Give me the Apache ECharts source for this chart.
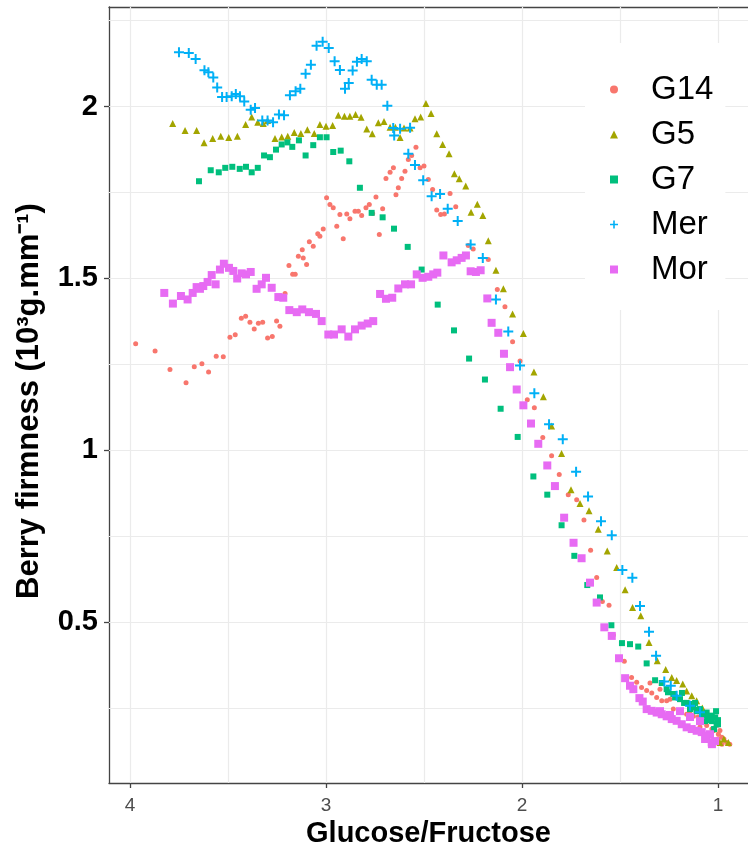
<!DOCTYPE html>
<html><head><meta charset="utf-8">
<script src="https://cdn.jsdelivr.net/npm/echarts@6/dist/echarts.min.js"></script>
<style>html,body{margin:0;padding:0;background:#fff}#c{width:748px;height:853px}</style>
</head><body><div id="c"></div>
<script>
const seriesNames = ['G14','G5','G7','Mer','Mor'];
const seriesColors = ['#F8766D','#A3A500','#00BF7D','#00B0F6','#E76BF3'];

const G14 = [[3.971,1.31],[3.872,1.289],[3.796,1.235],[3.714,1.197],[3.672,1.243],[3.633,1.252],[3.599,1.228],[3.56,1.274],[3.524,1.272],[3.49,1.329],[3.463,1.336],[3.432,1.384],[3.41,1.39],[3.388,1.373],[3.366,1.353],[3.345,1.37],[3.323,1.373],[3.298,1.327],[3.274,1.331],[3.252,1.376],[3.235,1.361],[3.209,1.456],[3.189,1.538],[3.17,1.512],[3.157,1.512],[3.141,1.565],[3.121,1.584],[3.116,1.56],[3.099,1.541],[3.085,1.607],[3.065,1.594],[3.042,1.63],[3.031,1.623],[3.014,1.644],[2.997,1.735],[2.98,1.715],[2.963,1.706],[2.945,1.652],[2.929,1.686],[2.912,1.616],[2.894,1.688],[2.878,1.674],[2.852,1.696],[2.835,1.696],[2.818,1.683],[2.796,1.706],[2.779,1.715],[2.762,1.689],[2.745,1.737],[2.728,1.628],[2.711,1.703],[2.694,1.791],[2.673,1.809],[2.656,1.822],[2.643,1.744],[2.631,1.764],[2.614,1.791],[2.597,1.812],[2.58,1.846],[2.563,1.858],[2.541,1.882],[2.52,1.822],[2.5,1.827],[2.478,1.788],[2.456,1.759],[2.435,1.699],[2.415,1.686],[2.396,1.688],[2.367,1.747],[2.338,1.709],[2.274,1.596],[2.249,1.586],[2.172,1.555],[2.126,1.468],[2.087,1.418],[2.048,1.316],[2.01,1.26],[1.973,1.147],[1.937,1.124],[1.894,1.037],[1.849,0.984],[1.81,0.93],[1.764,0.871],[1.721,0.856],[1.684,0.797],[1.65,0.709],[1.619,0.63],[1.59,0.56],[1.556,0.549],[1.534,0.463],[1.478,0.386],[1.441,0.339],[1.415,0.325],[1.39,0.31],[1.364,0.301],[1.338,0.294],[1.313,0.281],[1.287,0.271],[1.262,0.271],[1.228,0.247],[1.194,0.237],[1.16,0.232],[1.126,0.226],[1.092,0.213],[1.058,0.199],[1.024,0.184],[0.998,0.174],[0.981,0.165],[0.956,0.15],[1.005,0.2],[0.99,0.185],[0.97,0.16],[0.94,0.145],[1.143,0.241],[1.102,0.224],[1.066,0.212],[1.031,0.189],[1.0,0.16],[0.98,0.145],[1.041,0.174],[1.092,0.195],[1.296,0.305],[1.245,0.276],[1.347,0.323]];

const G5 = [[3.782,1.951],[3.719,1.931],[3.66,1.931],[3.622,1.895],[3.578,1.907],[3.537,1.914],[3.496,1.91],[3.452,1.914],[3.41,1.948],[3.379,1.97],[3.348,1.955],[3.32,1.951],[3.298,1.96],[3.26,1.907],[3.226,1.912],[3.195,1.914],[3.162,1.925],[3.128,1.922],[3.095,1.933],[3.06,1.922],[3.031,1.948],[3.0,1.943],[2.966,1.945],[2.937,1.975],[2.906,1.972],[2.878,1.972],[2.849,1.977],[2.821,1.969],[2.792,1.935],[2.764,1.921],[2.733,1.953],[2.704,1.957],[2.673,1.94],[2.646,1.94],[2.622,1.91],[2.602,1.938],[2.571,1.938],[2.546,1.965],[2.517,1.97],[2.49,2.009],[2.464,1.98],[2.435,1.921],[2.405,1.89],[2.372,1.863],[2.345,1.805],[2.32,1.79],[2.287,1.769],[2.26,1.693],[2.228,1.716],[2.2,1.683],[2.172,1.61],[2.133,1.524],[2.095,1.47],[2.048,1.397],[1.993,1.34],[1.939,1.228],[1.891,1.156],[1.849,1.071],[1.798,0.991],[1.75,0.885],[1.704,0.845],[1.658,0.824],[1.611,0.77],[1.565,0.707],[1.517,0.659],[1.474,0.594],[1.436,0.543],[1.394,0.519],[1.352,0.441],[1.31,0.388],[1.267,0.362],[1.236,0.339],[1.211,0.33],[1.18,0.32],[1.16,0.3],[1.134,0.286],[1.109,0.271],[1.08,0.25],[1.05,0.22],[1.02,0.19],[0.99,0.15],[0.97,0.16],[0.947,0.15]];

const G7 = [[3.648,1.783],[3.588,1.815],[3.547,1.809],[3.514,1.822],[3.478,1.825],[3.44,1.819],[3.408,1.825],[3.379,1.809],[3.348,1.822],[3.316,1.858],[3.286,1.853],[3.255,1.875],[3.226,1.89],[3.197,1.896],[3.172,1.883],[3.138,1.902],[3.104,1.858],[3.065,1.888],[3.031,1.911],[2.997,1.911],[2.963,1.868],[2.925,1.872],[2.881,1.841],[2.827,1.764],[2.767,1.691],[2.711,1.678],[2.653,1.645],[2.583,1.592],[2.512,1.526],[2.43,1.424],[2.347,1.349],[2.27,1.267],[2.189,1.206],[2.109,1.121],[2.022,1.039],[1.942,0.924],[1.871,0.871],[1.798,0.782],[1.733,0.693],[1.667,0.608],[1.602,0.572],[1.544,0.491],[1.49,0.439],[1.449,0.436],[1.407,0.429],[1.364,0.38],[1.321,0.331],[1.287,0.323],[1.262,0.305],[1.228,0.291],[1.194,0.276],[1.16,0.265],[1.126,0.252],[1.092,0.247],[1.058,0.237],[1.032,0.228],[1.015,0.223],[1.007,0.203],[1.04,0.215],[1.075,0.232],[1.11,0.245],[1.145,0.262],[1.0,0.215],[1.255,0.296],[1.219,0.281],[1.173,0.265],[1.143,0.247],[1.107,0.241],[1.077,0.23],[1.051,0.224],[1.031,0.212],[1.01,0.241],[1.0,0.203],[1.02,0.189],[1.066,0.212],[1.117,0.265],[1.184,0.294]];

const Mer = [[3.75,2.158],[3.70,2.156],[3.665,2.139],[3.62,2.106],[3.60,2.10],[3.575,2.085],[3.555,2.056],[3.53,2.028],[3.507,2.028],[3.481,2.03],[3.46,2.037],[3.439,2.03],[3.417,2.015],[3.384,1.991],[3.362,1.996],[3.325,1.96],[3.298,1.96],[3.27,1.955],[3.24,1.977],[3.214,1.975],[3.184,2.033],[3.155,2.045],[3.131,2.052],[3.104,2.096],[3.077,2.122],[3.048,2.177],[3.017,2.189],[2.986,2.171],[2.956,2.132],[2.929,2.107],[2.903,2.052],[2.884,2.069],[2.864,2.105],[2.842,2.131],[2.818,2.139],[2.792,2.132],[2.767,2.078],[2.741,2.064],[2.716,2.064],[2.687,2.003],[2.657,1.938],[2.652,1.916],[2.622,1.936],[2.571,1.939],[2.58,1.863],[2.546,1.83],[2.504,1.786],[2.461,1.739],[2.418,1.746],[2.379,1.703],[2.328,1.667],[2.262,1.599],[2.2,1.56],[2.133,1.439],[2.07,1.346],[2.01,1.247],[1.937,1.166],[1.862,1.076],[1.792,1.032],[1.724,0.938],[1.663,0.866],[1.597,0.794],[1.542,0.753],[1.488,0.652],[1.437,0.629],[1.398,0.547],[1.352,0.472],[1.316,0.402],[1.274,0.327],[1.241,0.315],[1.211,0.286],[1.143,0.257],[1.092,0.238]];

const Mor = [[3.825,1.458],[3.781,1.427],[3.74,1.449],[3.706,1.439],[3.68,1.458],[3.66,1.475],[3.643,1.47],[3.626,1.478],[3.604,1.49],[3.583,1.51],[3.563,1.483],[3.541,1.526],[3.521,1.543],[3.495,1.531],[3.473,1.522],[3.453,1.5],[3.43,1.515],[3.408,1.512],[3.384,1.519],[3.354,1.47],[3.328,1.483],[3.306,1.502],[3.277,1.473],[3.243,1.446],[3.218,1.444],[3.187,1.408],[3.149,1.402],[3.121,1.41],[3.087,1.402],[3.051,1.397],[3.022,1.376],[2.988,1.337],[2.959,1.337],[2.92,1.352],[2.886,1.331],[2.852,1.352],[2.818,1.363],[2.787,1.369],[2.759,1.376],[2.724,1.455],[2.694,1.441],[2.662,1.444],[2.631,1.471],[2.597,1.483],[2.566,1.483],[2.537,1.512],[2.507,1.502],[2.478,1.505],[2.453,1.512],[2.432,1.517],[2.401,1.567],[2.359,1.547],[2.333,1.553],[2.308,1.56],[2.286,1.567],[2.262,1.521],[2.235,1.519],[2.211,1.524],[2.177,1.442],[2.155,1.371],[2.121,1.342],[2.092,1.281],[2.061,1.242],[2.027,1.177],[1.993,1.131],[1.954,1.078],[1.917,1.019],[1.871,0.956],[1.832,0.896],[1.785,0.804],[1.737,0.731],[1.696,0.686],[1.653,0.615],[1.619,0.557],[1.58,0.485],[1.542,0.46],[1.505,0.395],[1.474,0.337],[1.449,0.315],[1.432,0.305],[1.401,0.279],[1.384,0.269],[1.364,0.247],[1.338,0.242],[1.313,0.237],[1.287,0.232],[1.262,0.226],[1.236,0.218],[1.211,0.213],[1.185,0.203],[1.16,0.194],[1.134,0.189],[1.109,0.184],[1.083,0.18],[1.058,0.17],[1.032,0.15],[1.092,0.212],[1.143,0.224],[1.194,0.241],[1.041,0.174],[1.015,0.154],[1.031,0.145],[1.066,0.16],[1.245,0.23],[1.296,0.241]];

const xTicks = [1, 2, 3, 4];
const xMinor = [1.5, 2.5, 3.5];
const yTicks = [0.5, 1, 1.5, 2];
const yMinor = [0.25, 0.75, 1.25, 1.75, 2.25];

const FONT = '"Liberation Sans", Arial, sans-serif';
const PLUS = 'path://M4,0H6V4H10V6H6V10H4V6H0V4H4Z';
const symbols = ['circle', 'triangle', 'rect', PLUS, 'rect'];
const sizes = [5, 7, 6, 10, 8];
const datasets = [G14, G5, G7, Mer, Mor];

const chart = echarts.init(document.getElementById('c'), null, {renderer: 'canvas'});

const gridLines = [];
xTicks.concat(xMinor).forEach(v => gridLines.push({xAxis: v}));
yTicks.concat(yMinor).forEach(v => gridLines.push({yAxis: v}));

const series = [{
  type: 'scatter', name: '_grid', data: [], silent: true,
  markLine: {
    silent: true, z: 1, animation: false, symbol: ['none', 'none'],
    label: {show: false},
    lineStyle: {color: '#EBEBEB', width: 1.2, type: 'solid'},
    emphasis: {disabled: true},
    data: gridLines
  }
}];
datasets.forEach((d, i) => {
  series.push({
    type: 'scatter', name: seriesNames[i], data: d,
    symbol: symbols[i], symbolSize: sizes[i],
    itemStyle: {color: seriesColors[i], opacity: 1},
    emphasis: {disabled: true}, z: 2
  });
});

const option = {
  animation: false,
  backgroundColor: '#fff',
  grid: {left: 109, top: 7, right: 0, bottom: 70, containLabel: false, outerBoundsMode: 'none'},
  legend: {
    orient: 'vertical', left: 585, top: 43,
    backgroundColor: '#fff', padding: [30, 12, 24, 25],
    itemWidth: 8, itemHeight: 8, itemGap: 12,
    selectedMode: false,
    textStyle: {fontSize: 33, fontFamily: FONT, color: '#000', lineHeight: 30, padding: [0, 0, 0, 28]},
    data: seriesNames
  },
  xAxis: [{
    type: 'value', inverse: true, min: 0.847, max: 4.107,
    axisLine: {show: true, onZero: false, lineStyle: {color: '#444', width: 1.3}},
    axisTick: {show: true, customValues: xTicks, length: 5, lineStyle: {color: '#444', width: 1.3}},
    axisLabel: {customValues: xTicks, color: '#4d4d4d', fontSize: 19, margin: 13, fontFamily: FONT},
    splitLine: {show: false},
    name: 'Glucose/Fructose', nameLocation: 'middle', nameGap: 33,
    nameTextStyle: {fontSize: 29, fontWeight: 'bold', color: '#000', fontFamily: FONT}
  }, {
    type: 'value', position: 'top', inverse: true, min: 0.847, max: 4.107,
    axisLine: {show: true, onZero: false, lineStyle: {color: '#444', width: 1.3}},
    axisTick: {show: false}, axisLabel: {show: false}, splitLine: {show: false}
  }],
  yAxis: {
    type: 'value', min: 0.032, max: 2.29,
    axisLine: {show: true, onZero: false, lineStyle: {color: '#444', width: 1.3}},
    axisTick: {show: true, customValues: yTicks, length: 5, lineStyle: {color: '#444', width: 1.3}},
    axisLabel: {customValues: yTicks, color: '#000', fontSize: 29, fontWeight: 'bold', margin: 11, fontFamily: FONT},
    splitLine: {show: false},
    name: 'Berry firmness (10³g.mm⁻¹)', nameLocation: 'middle', nameGap: 64,
    nameTextStyle: {fontSize: 31, fontWeight: 'bold', color: '#000', fontFamily: FONT, padding: [0, 12, 0, 0]}
  },
  series: series
};
chart.setOption(option);
</script>
</body></html>
